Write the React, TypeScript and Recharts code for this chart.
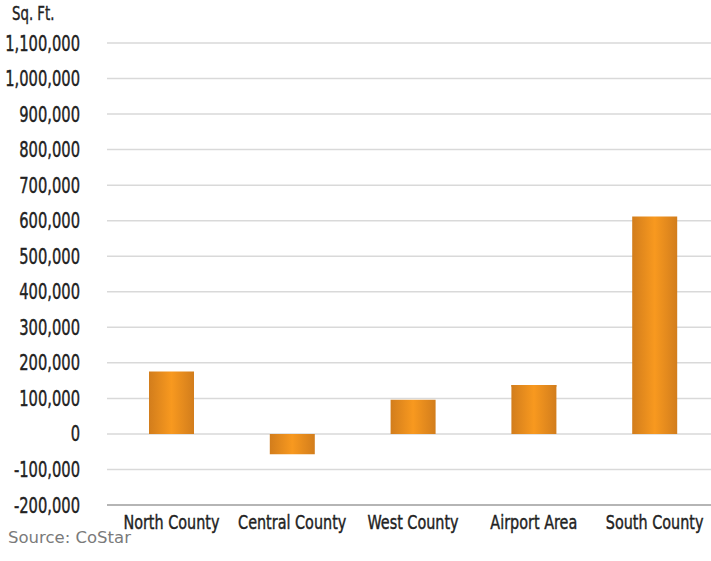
import React from "react";
import { Bar, BarChart, CartesianGrid, ReferenceLine, XAxis, YAxis } from "recharts";

// net absorption by submarket, split into gains and losses so they stack around zero
const submarkets = ["North County", "Central County", "West County", "Airport Area", "South County"];
const gains = [176000, 0, 96000, 138000, 612000];
const losses = [0, -57000, 0, -5000, 0];
const yTicks = [
  -200000, -100000, 0, 100000, 200000, 300000, 400000, 500000, 600000, 700000, 800000, 900000,
  1000000, 1100000,
];

const data = submarkets.map((name, i) => ({ name, gain: gains[i], loss: losses[i] }));

const labelFont = "'DejaVu Sans', sans-serif";

// no condensed face is installed, so squeeze the regular one horizontally
function NarrowYTick({ x, y, payload }: any) {
  return (
    <g transform={`translate(${x},${y})`}>
      <text
        transform="scale(0.7,1)"
        textAnchor="end"
        dy="0.36em"
        fontFamily={labelFont}
        fontSize={21}
        fill="#222"
        stroke="#222"
        strokeWidth={0.45}
      >
        {Number(payload.value).toLocaleString("en-US")}
      </text>
    </g>
  );
}

function NarrowXTick({ x, y, payload }: any) {
  return (
    <g transform={`translate(${x},${y})`}>
      <text
        transform="scale(0.72,1)"
        textAnchor="middle"
        dy="0.72em"
        fontFamily={labelFont}
        fontSize={20}
        fill="#222"
        stroke="#222"
        strokeWidth={0.45}
      >
        {payload.value}
      </text>
    </g>
  );
}

export default function App() {
  return (
    <div style={{ position: "absolute", left: 0, top: 0, width: 711, height: 561, background: "#fff" }}>
      <div
        style={{
          position: "absolute",
          left: 12,
          top: 2,
          fontFamily: labelFont,
          fontSize: 19,
          color: "#222",
          WebkitTextStroke: "0.4px #222",
          transform: "scaleX(0.7)",
          transformOrigin: "left top",
          whiteSpace: "nowrap",
        }}
      >
        Sq. Ft.
      </div>
      <BarChart
        width={711}
        height={561}
        data={data}
        margin={{ top: 43, right: -4, bottom: 26, left: 0 }}
        barSize={45}
      >
        <defs>
          <linearGradient id="orangeBar" x1="0" y1="0" x2="1" y2="0">
            <stop offset="0%" stopColor="#d27d1c" />
            <stop offset="50%" stopColor="#f8991f" />
            <stop offset="100%" stopColor="#d27d1c" />
          </linearGradient>
        </defs>
        <CartesianGrid vertical={false} stroke="#d9d9d9" strokeWidth={1.5} />
        <XAxis
          dataKey="name"
          height={30}
          axisLine={false}
          tickLine={false}
          padding={{ left: 4, right: 0 }}
          tick={<NarrowXTick />}
          tickMargin={4}
          interval={0}
        />
        <YAxis
          width={107}
          domain={[-200000, 1100000]}
          ticks={yTicks}
          interval={0}
          axisLine={false}
          tickLine={false}
          tickMargin={21}
          tick={<NarrowYTick />}
        />
        <ReferenceLine y={-200000} stroke="#a6a6a6" strokeWidth={1.5} />
        <Bar dataKey="gain" stackId="net" fill="url(#orangeBar)" isAnimationActive={false} />
        <Bar dataKey="loss" stackId="net" fill="url(#orangeBar)" isAnimationActive={false} />
      </BarChart>
      <div
        style={{
          position: "absolute",
          left: 8,
          top: 528,
          fontFamily: "'DejaVu Sans', sans-serif",
          fontSize: 16.5,
          color: "#7a7a7a",
          whiteSpace: "nowrap",
        }}
      >
        Source: CoStar
      </div>
    </div>
  );
}
